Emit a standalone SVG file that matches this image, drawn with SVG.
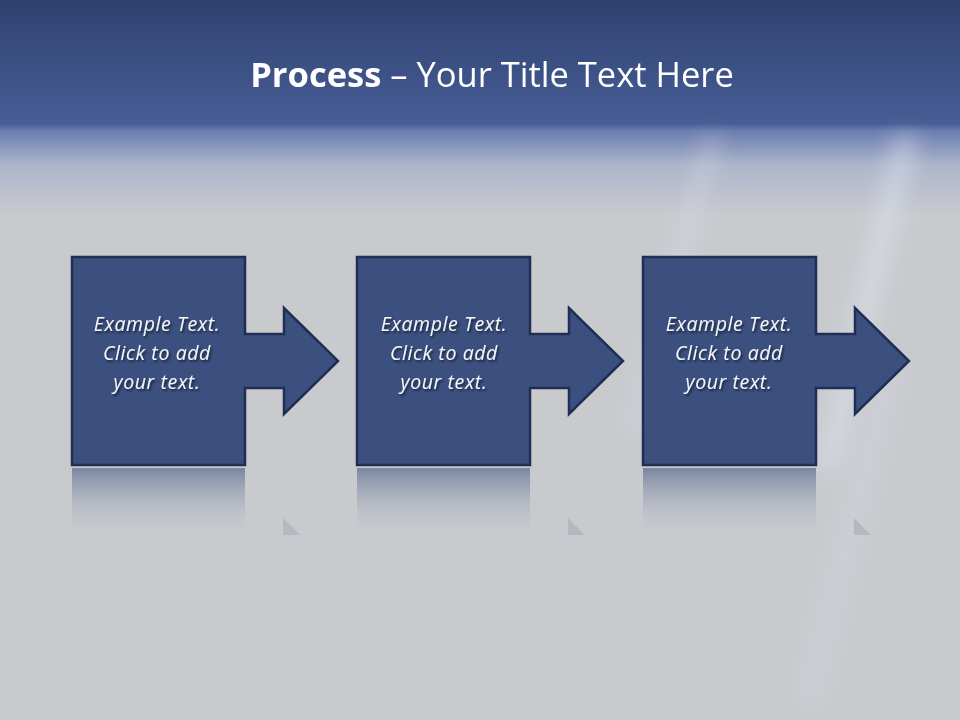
<svg xmlns="http://www.w3.org/2000/svg" width="960" height="720" viewBox="0 0 960 720">
<defs>
<linearGradient id="bg" x1="0" y1="0" x2="0" y2="1">
<stop offset="0" stop-color="#2e4170"/>
<stop offset="0.172" stop-color="#475d95"/>
<stop offset="0.182" stop-color="#6b7eaf"/>
<stop offset="0.23" stop-color="#aeb6cb"/>
<stop offset="0.3" stop-color="#c8cace"/>
<stop offset="1" stop-color="#c8cace"/>
</linearGradient>
<linearGradient id="refl" x1="0" y1="0" x2="0" y2="1">
<stop offset="0" stop-color="#75829f" stop-opacity="0.95"/>
<stop offset="1" stop-color="#c8cace" stop-opacity="0"/>
</linearGradient>
<filter id="blur" x="-50%" y="-50%" width="200%" height="200%"><feGaussianBlur stdDeviation="10"/></filter>
<filter id="ts" x="-10%" y="-10%" width="120%" height="140%"><feDropShadow dx="1.5" dy="2" stdDeviation="1.2" flood-color="#000" flood-opacity="0.6"/></filter>
<path id="shape" d="M0 0 H173 V77 H212 V51 L266 104 L212 157 V131 H173 V208 H0 Z"/>
</defs>
<style>
.box{fill:#3c5080;stroke:#1f2e52;stroke-width:2.5;stroke-linejoin:miter}
.lbl{font-family:"Open Sans",Lato,"Liberation Sans",sans-serif;font-style:italic;font-size:19.5px;letter-spacing:0.6px;fill:#f4f6fa;text-anchor:middle;filter:url(#ts)}
.ttl{font-family:"Open Sans",Lato,"Liberation Sans",sans-serif;font-size:34.5px;fill:#ffffff;text-anchor:middle}
</style>
<rect width="960" height="720" fill="url(#bg)"/>
<g filter="url(#blur)" fill="#e4e9f5">
<polygon points="705,135 722,135 640,430 627,430" opacity="0.3"/>
<polygon points="893,135 920,135 840,470 815,470" opacity="0.4"/>
<polygon points="880,360 905,360 820,700 798,700" opacity="0.18"/>
</g>
<g id="title"><text class="ttl" x="492" y="87"><tspan font-weight="bold">Process</tspan> – Your Title Text Here</text></g>
<g id="reflections">
<rect x="72" y="468" width="173" height="70" fill="url(#refl)"/>
<rect x="357" y="468" width="173" height="70" fill="url(#refl)"/>
<rect x="643" y="468" width="173" height="70" fill="url(#refl)"/>
<polygon points="283,518 300,535 283,535" fill="#b4b8c2"/>
<polygon points="568,518 585,535 568,535" fill="#b4b8c2"/>
<polygon points="854,518 871,535 854,535" fill="#b4b8c2"/>
</g>
<g id="step1" transform="translate(72,257)">
<use href="#shape" class="box"/>
<text class="lbl" x="85" y="74">Example Text.</text>
<text class="lbl" x="85" y="103">Click  to add</text>
<text class="lbl" x="85" y="132">your text.</text>
</g>
<g id="step2" transform="translate(357,257)">
<use href="#shape" class="box"/>
<text class="lbl" x="87" y="74">Example Text.</text>
<text class="lbl" x="87" y="103">Click  to add</text>
<text class="lbl" x="87" y="132">your text.</text>
</g>
<g id="step3" transform="translate(643,257)">
<use href="#shape" class="box"/>
<text class="lbl" x="86" y="74">Example Text.</text>
<text class="lbl" x="86" y="103">Click  to add</text>
<text class="lbl" x="86" y="132">your text.</text>
</g>
<g id="connectors"/>
</svg>
